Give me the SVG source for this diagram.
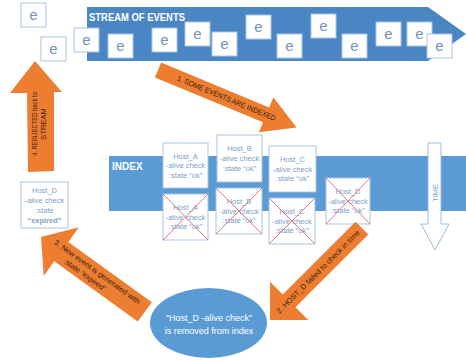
<svg xmlns="http://www.w3.org/2000/svg" width="466" height="360" viewBox="0 0 466 360">
<style>
text{font-family:"Liberation Sans",Arial,sans-serif}
.ebox,.hbox{fill:#fff;stroke:#a9c3e3;stroke-width:1}
.etxt{font-size:15px;fill:#7494bd;text-anchor:middle}
.htxt{font-size:7.5px;fill:#7b9fc9;text-anchor:middle}
.cross{stroke:#dc7683;stroke-width:1}
.orange{fill:#ed7d31}
.atxt{font-size:7.5px;fill:#3a2410;text-anchor:middle}
.wbold{font-weight:bold;fill:#fff}
</style>
<rect width="466" height="360" fill="#fff"/>
<g id="stream">
<polygon points="87,7 428,7 466,34 428,61 87,61" fill="#4a86c4"/>
<text x="89" y="20.5" class="wbold" font-size="10" textLength="96" lengthAdjust="spacingAndGlyphs">STREAM OF EVENTS</text>
</g>
<g id="events">
<g id="e1"><rect class="ebox" x="21" y="3" width="25" height="24"/><text class="etxt" x="33.5" y="20">e</text></g>
<g id="e2"><rect class="ebox" x="41" y="37" width="25" height="24"/><text class="etxt" x="53.5" y="54">e</text></g>
<g id="e3"><rect class="ebox" x="74" y="28" width="25" height="24"/><text class="etxt" x="86.5" y="45">e</text></g>
<g id="e4"><rect class="ebox" x="108" y="34" width="25" height="24"/><text class="etxt" x="120.5" y="51">e</text></g>
<g id="e5"><rect class="ebox" x="152" y="28" width="25" height="24"/><text class="etxt" x="164.5" y="45">e</text></g>
<g id="e6"><rect class="ebox" x="185" y="22" width="25" height="24"/><text class="etxt" x="197.5" y="39">e</text></g>
<g id="e7"><rect class="ebox" x="212" y="32" width="25" height="24"/><text class="etxt" x="224.5" y="49">e</text></g>
<g id="e8"><rect class="ebox" x="246" y="15" width="25" height="24"/><text class="etxt" x="258.5" y="32">e</text></g>
<g id="e9"><rect class="ebox" x="277" y="34" width="25" height="24"/><text class="etxt" x="289.5" y="51">e</text></g>
<g id="e10"><rect class="ebox" x="311" y="14" width="25" height="24"/><text class="etxt" x="323.5" y="31">e</text></g>
<g id="e11"><rect class="ebox" x="342" y="34" width="25" height="24"/><text class="etxt" x="354.5" y="51">e</text></g>
<g id="e12"><rect class="ebox" x="376" y="22" width="25" height="24"/><text class="etxt" x="388.5" y="39">e</text></g>
<g id="e13"><rect class="ebox" x="407" y="22" width="25" height="24"/><text class="etxt" x="419.5" y="39">e</text></g>
<g id="e14"><rect class="ebox" x="427" y="34" width="25" height="24"/><text class="etxt" x="439.5" y="51">e</text></g>
</g>
<g id="index">
<rect x="109" y="156" width="357" height="55" fill="#5b9bd5"/>
<text x="112" y="169.5" class="wbold" font-size="10">INDEX</text>
</g>
<g id="time">
<polygon points="428,143 441,143 441,224 449,224 435,250 421,224 428,224" fill="#fff" stroke="#9dbbe0" stroke-width="1"/>
<text class="htxt" transform="translate(437.7,193) rotate(-90)">TIME</text>
</g>
<g id="hostA">
<rect class="hbox" x="163" y="143" width="45" height="45"/>
<text class="htxt" x="185.5" y="158.7">Host_A</text>
<text class="htxt" x="185.5" y="168.2">-alive check</text>
<text class="htxt" x="185.5" y="177.7">:state “ok”</text>
</g>
<g id="hostB">
<rect class="hbox" x="217" y="135" width="45" height="47"/>
<text class="htxt" x="239.5" y="151.2">Host_B</text>
<text class="htxt" x="239.5" y="161.2">-alive check</text>
<text class="htxt" x="239.5" y="171.2">:state “ok”</text>
</g>
<g id="hostC">
<rect class="hbox" x="269" y="146" width="47" height="46"/>
<text class="htxt" x="292.5" y="161.7">Host_C</text>
<text class="htxt" x="292.5" y="171.7">-alive check</text>
<text class="htxt" x="292.5" y="181.2">:state “ok”</text>
</g>
<g id="hostA-removed">
<rect class="hbox" x="163" y="194" width="45" height="46"/>
<text class="htxt" x="185.5" y="210.2">Host_A</text>
<text class="htxt" x="185.5" y="219.7">-alive check</text>
<text class="htxt" x="185.5" y="229.2">:state “ok”</text>
<path class="cross" d="M163,194L208,240M208,194L163,240"/>
</g>
<g id="hostB-removed">
<rect class="hbox" x="216" y="188" width="46" height="46"/>
<text class="htxt" x="239" y="204.2">Host_B</text>
<text class="htxt" x="239" y="213.7">-alive check</text>
<text class="htxt" x="239" y="223.2">:state “ok”</text>
<path class="cross" d="M216,188L262,234M262,188L216,234"/>
</g>
<g id="hostC-removed">
<rect class="hbox" x="269" y="198" width="46" height="46"/>
<text class="htxt" x="292" y="214.2">Host_C</text>
<text class="htxt" x="292" y="223.7">-alive check</text>
<text class="htxt" x="292" y="233.2">:state “ok”</text>
<path class="cross" d="M269,198L315,244M315,198L269,244"/>
</g>
<g id="hostD-removed">
<rect class="hbox" x="326" y="178" width="44" height="46"/>
<text class="htxt" x="348" y="194.2">Host_D</text>
<text class="htxt" x="348" y="203.7">-alive check</text>
<text class="htxt" x="348" y="213.2">:state “ok”</text>
<path class="cross" d="M326,178L370,224M370,178L326,224"/>
</g>
<g id="hostD-expired">
<rect class="hbox" x="21" y="182" width="47" height="46"/>
<text class="htxt" x="44.5" y="192.7">Host_D</text>
<text class="htxt" x="44.5" y="202.7">-alive check</text>
<text class="htxt" x="44.5" y="212.7">:state</text>
<text class="htxt" x="44.5" y="222.7" font-weight="bold" fill="#4a76aa">“expired”</text>
</g>
<g id="removed">
<ellipse cx="208.5" cy="323" rx="58.5" ry="35" fill="#5b9bd5"/>
<text x="209" y="321" font-size="9" fill="#fff" text-anchor="middle">“Host_D -alive check”</text>
<text x="209" y="334" font-size="9" fill="#fff" text-anchor="middle">is removed from index</text>
</g>
<g id="connectors">
<g id="step1" transform="translate(158,70) rotate(22.5)">
<polygon class="orange" points="0,-8 117,-8 117,-19 150,0 117,19 117,8 0,8"/>
<text class="atxt" x="74" y="2.5" font-size="7" textLength="106" lengthAdjust="spacingAndGlyphs">1. SOME EVENTS ARE INDEXED</text>
</g>
<g id="step2" transform="translate(270,320) rotate(-45)">
<polygon class="orange" points="0,0 27,-27 27,-9 130,-9 130,9 27,9 27,27"/>
<text class="atxt" x="68" y="2.5" textLength="114" lengthAdjust="spacingAndGlyphs">2. HOST_D failed to check in time</text>
</g>
<g id="step3" transform="translate(41,237) rotate(35.8)">
<polygon class="orange" points="0,0 25,-30 25,-12 128,-12 128,12 25,12 25,30"/>
<text class="atxt" x="66" y="-2" textLength="104" lengthAdjust="spacingAndGlyphs">3. New event is generated with</text>
<text class="atxt" x="58" y="7.6">:state “expired”</text>
</g>
<g id="step4">
<polygon class="orange" points="35,61 62,92 54,92 54,171 28,172 27,93 10,93"/>
<text class="atxt" transform="translate(36.5,124) rotate(-90)" font-size="7" textLength="64" lengthAdjust="spacingAndGlyphs">4. REINJECTED back to</text>
<text class="atxt" transform="translate(45.5,124) rotate(-90)" font-size="7">STREAM</text>
</g>
</g>
</svg>
